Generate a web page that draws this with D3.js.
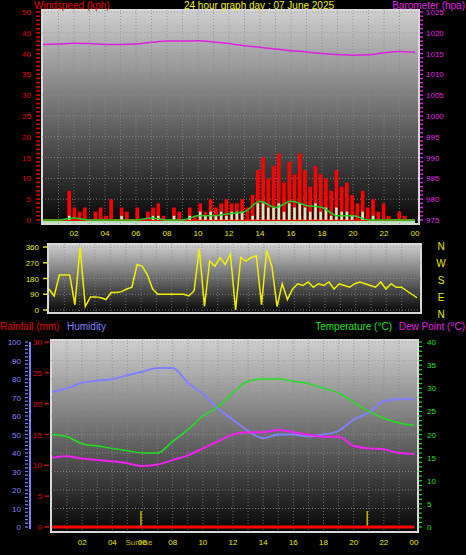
<!DOCTYPE html>
<html><head><meta charset="utf-8">
<script src="https://cdn.jsdelivr.net/npm/d3@7"></script>
<style>body{margin:0;background:#000}text{font-family:"Liberation Sans",Arial,sans-serif}</style>
</head><body><div id="chart"></div>
<script>
// data (samples are evenly spread over 00-24h)
const hourTicks = [2, 4, 6, 8, 10, 12, 14, 16, 18, 20, 22, 24];
const barometer = [1017.2,1017.3,1017.5,1017.4,1017.2,1017.2,1017.3,1017.7,1018.0,1018.0,1018.1,1017.8,1017.4,1016.9,1016.5,1016.1,1015.7,1015.4,1015.0,1014.8,1014.6,1014.7,1015.2,1015.5,1015.3];
const gust = [0,0,0,0,0,7,3,2,3,0,2,3,1,5,0,3,2,0,3,0,2,3,4,1,0,3,2,0,3,1,4,2,5,3,4,5,4,4,5,3,6,12,15,10,13,16,9,14,11,16,12,8,13,11,10,7,12,8,9,6,4,7,3,5,2,4,1,0,2,1,0,0];
const speedBars = [0,0,0,0,0,1,0,0,0,0,0,0,0,0,0,1,0,0,0,0,0,1,1,0,0,1,0,0,1,0,2,1,2,1,2,1,2,2,2,0,1,4,4,3,3,4,2,4,3,4,3,2,4,2,3,1,3,2,2,1,0,2,0,1,0,0,0,0,0,0,0,0];
const speedAvg = [0,0,0.5,0,0,0,0,0.5,0,0,1,1,1.5,2,4.5,3,4.5,3.5,3,1,1,0,0,0,0];
const windDir = [120,80,200,200,200,30,360,20,75,75,70,60,100,100,105,120,130,260,250,200,120,90,90,90,90,90,90,80,110,350,20,280,250,300,260,320,0,300,280,300,310,30,340,250,20,150,60,120,150,140,160,130,150,140,160,120,150,140,130,150,160,150,140,130,160,120,150,130,130,110,90,70];
const humidity = [73,75,78,79,80,82,84,86,86,78,72,64,58,52,48,50,50,49,50,52,58,62,68,69,69];
const temperature = [20,19.5,18,17.5,17,16.5,16,16,18.5,21,24,26,29,31.5,32,32,31.5,31,30,29,27,25,23.5,22.5,22];
const dewPoint = [15,15.3,14.8,14.5,14.2,13.8,13.2,13.5,14.5,15.5,17,18.5,20,20.5,20.5,21,20.5,20,19.5,19.5,17.5,17,16.8,16,15.8];
const rainfall = [0,0,0,0,0,0,0,0,0,0,0,0,0,0,0,0,0,0,0,0,0,0,0,0,0];
const sunTimes = [5.9, 20.9];

const svg = d3.select("#chart").append("svg").attr("width", 466).attr("height", 555);
const defs = svg.append("defs");
const grad = defs.append("linearGradient").attr("id", "bg").attr("x1", 0).attr("x2", 0).attr("y1", 0).attr("y2", 1);
grad.append("stop").attr("offset", 0).attr("stop-color", "#cfcfcf");
grad.append("stop").attr("offset", 1).attr("stop-color", "#050505");

const tAt = (arr) => arr.map((v, i) => [i / (arr.length - 1) * 24, v]);

function panel(x0, x1, y0, y1, vTicks, vScale) {
  svg.append("rect").attr("x", x0).attr("y", y0).attr("width", x1 - x0).attr("height", y1 - y0)
    .attr("fill", "url(#bg)").attr("stroke", "#d8d8d8").attr("stroke-width", 2);
  const x = d3.scaleLinear().domain([0, 24]).range([x0 + 1, x1 - 4]);
  svg.append("g").selectAll("line").data(d3.range(1, 24)).join("line")
    .attr("x1", d => x(d)).attr("x2", d => x(d)).attr("y1", y0).attr("y2", y1)
    .attr("stroke", "#888").attr("stroke-dasharray", "1,2").attr("opacity", 0.7);
  svg.append("g").selectAll("line").data(vTicks).join("line")
    .attr("x1", x0).attr("x2", x1).attr("y1", d => vScale(d)).attr("y2", d => vScale(d))
    .attr("stroke", "#999").attr("stroke-dasharray", "1,2").attr("opacity", 0.7);
  return x;
}

function axisText(scale, ticks, xPos, anchor, color) {
  svg.append("g").selectAll("text").data(ticks).join("text")
    .attr("x", xPos).attr("y", d => scale(d) + 3).attr("text-anchor", anchor)
    .attr("fill", color).attr("font-size", 8).text(d => d);
}
function tickMarks(scale, ticks, xPos, len, color, width) {
  svg.append("g").selectAll("line").data(ticks).join("line")
    .attr("x1", xPos).attr("x2", xPos + len).attr("y1", d => scale(d)).attr("y2", d => scale(d))
    .attr("stroke", color).attr("stroke-width", width || 1);
}
function hourLabels(x, y) {
  svg.append("g").selectAll("text").data(hourTicks).join("text")
    .attr("x", d => x(d)).attr("y", y).attr("text-anchor", "middle")
    .attr("fill", "#e8e800").attr("font-size", 8).text(d => d3.format("02")(d % 24));
}
function label(x, y, anchor, color, txt) {
  svg.append("text").attr("x", x).attr("y", y).attr("text-anchor", anchor)
    .attr("fill", color).attr("font-size", 10).text(txt);
}

// ---------- panel 1: wind & barometer
const yW = d3.scaleLinear().domain([0, 50]).range([220, 12]);
const yB = d3.scaleLinear().domain([975, 1025]).range([220, 12]);
const x1 = panel(42, 419, 10, 224, d3.range(0, 51, 5), yW);
label(34, 9, "start", "#e00000", "Windspeed (kph)");
label(259, 9, "middle", "#f0f000", "24 hour graph day : 07 June 2025");
label(465, 9, "end", "#e020e0", "Barometer (hpa)");
axisText(yW, d3.range(0, 51, 5), 31, "end", "#e00000");
tickMarks(yW, d3.range(0, 51, 1), 36, 4, "#e00000", 1.5);
axisText(yB, d3.range(975, 1026, 5), 426, "start", "#e020e0");
tickMarks(yB, d3.range(975, 1026, 1), 420, 3, "#e020e0", 1.5);

const bw = (x1(24) - x1(0)) / gust.length;
svg.append("g").selectAll("rect").data(tAt(gust)).join("rect")
  .attr("x", d => x1(d[0]) - bw * 0.35).attr("width", bw * 0.7)
  .attr("y", d => yW(d[1])).attr("height", d => yW(0) - yW(d[1])).attr("fill", "#ff0000");
svg.append("line").attr("x1", x1(0)).attr("x2", x1(24)).attr("y1", yW(0)).attr("y2", yW(0)).attr("stroke", "#ff0000").attr("stroke-width", 2);
svg.append("g").selectAll("rect").data(tAt(speedBars)).join("rect")
  .attr("x", d => x1(d[0]) - bw / 4).attr("width", bw / 2)
  .attr("y", d => yW(d[1])).attr("height", d => yW(0) - yW(d[1])).attr("fill", "#c8f0c8");
svg.append("line").attr("x1", x1(0)).attr("x2", x1(24)).attr("y1", 222).attr("y2", 222).attr("stroke", "#b0e0b0").attr("stroke-width", 2);
svg.append("path").datum(tAt(speedAvg))
  .attr("d", d3.line().x(d => x1(d[0])).y(d => yW(d[1])).curve(d3.curveMonotoneX))
  .attr("fill", "none").attr("stroke", "#20d020").attr("stroke-width", 1.5);
svg.append("path").datum(tAt(barometer))
  .attr("d", d3.line().x(d => x1(d[0])).y(d => yB(d[1])).curve(d3.curveMonotoneX))
  .attr("fill", "none").attr("stroke", "#e020e0").attr("stroke-width", 1.5);
hourLabels(x1, 236);

// ---------- panel 2: wind direction
const yD = d3.scaleLinear().domain([0, 360]).range([310, 247]);
const x2 = panel(48, 421, 244, 313, [0, 90, 180, 270, 360], yD);
axisText(yD, [0, 90, 180, 270, 360], 39, "end", "#e8e800");
tickMarks(yD, [0, 90, 180, 270, 360], 43, 4, "#e8e800", 1.5);
svg.append("g").selectAll("text").data(["N", "W", "S", "E", "N"]).join("text")
  .attr("x", 441).attr("y", (d, i) => 250 + i * 17).attr("text-anchor", "middle")
  .attr("fill", "#e8e800").attr("font-size", 10).text(d => d);
svg.append("path").datum(tAt(windDir))
  .attr("d", d3.line().x(d => x2(d[0])).y(d => yD(d[1])))
  .attr("fill", "none").attr("stroke", "#f0f000").attr("stroke-width", 1.5);

// ---------- panel 3: temperature, humidity, dew point, rain
const yH = d3.scaleLinear().domain([0, 100]).range([527, 342]);
const yT = d3.scaleLinear().domain([0, 40]).range([527, 342]);
const yR = d3.scaleLinear().domain([0, 30]).range([527, 342]);
const x3 = panel(51, 418, 340, 532, d3.range(0, 101, 10), yH);
label(0, 330, "start", "#e00000", "Rainfall (mm)");
label(67, 330, "start", "#8080ff", "Humidity");
label(392, 330, "end", "#20e020", "Temperature (°C)");
label(465, 330, "end", "#e020e0", "Dew Point (°C)");
axisText(yH, d3.range(0, 101, 10), 21, "end", "#8080ff");
tickMarks(yH, d3.range(0, 101, 2), 25, 3, "#8080ff", 1.2);
svg.append("line").attr("x1", 30).attr("x2", 30).attr("y1", 342).attr("y2", 529).attr("stroke", "#8080ff").attr("stroke-width", 2);
axisText(yR, d3.range(0, 31, 5), 42, "end", "#e00000");
tickMarks(yR, d3.range(0, 31, 5), 45, 4, "#e00000", 1.5);
axisText(yT, d3.range(0, 41, 5), 427, "start", "#20e020");
tickMarks(yT, d3.range(0, 41, 1), 419, 3, "#20e020", 1.2);

svg.append("g").selectAll("line").data(sunTimes).join("line")
  .attr("x1", d => x3(d)).attr("x2", d => x3(d)).attr("y1", 511).attr("y2", 528)
  .attr("stroke", "#c8b400").attr("stroke-width", 1.5);
const lineT = (scale) => d3.line().x(d => x3(d[0])).y(d => scale(d[1])).curve(d3.curveMonotoneX);
svg.append("path").datum(tAt(rainfall)).attr("d", lineT(yR)).attr("fill", "none").attr("stroke", "#ff0000").attr("stroke-width", 3);
svg.append("path").datum(tAt(humidity)).attr("d", lineT(yH)).attr("fill", "none").attr("stroke", "#8080ff").attr("stroke-width", 2);
svg.append("path").datum(tAt(temperature)).attr("d", lineT(yT)).attr("fill", "none").attr("stroke", "#20e020").attr("stroke-width", 1.5);
svg.append("path").datum(tAt(dewPoint)).attr("d", lineT(yT)).attr("fill", "none").attr("stroke", "#f020f0").attr("stroke-width", 2);
hourLabels(x3, 545);
svg.append("text").attr("x", x3(sunTimes[0]) - 2).attr("y", 545).attr("text-anchor", "middle")
  .attr("fill", "#c8b400").attr("font-size", 8).text("Sunrise");
</script></body></html>
